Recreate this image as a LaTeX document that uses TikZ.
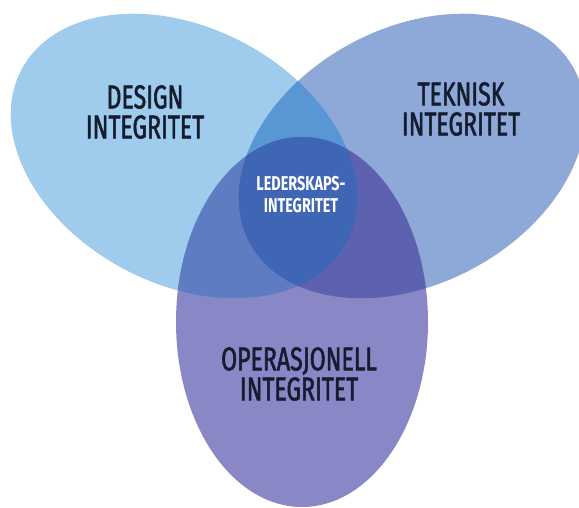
\documentclass[tikz,border=0pt]{standalone}
\usepackage{fontspec}
\setmainfont{Fira Sans}[FakeStretch=0.72]
\newfontfamily\labelfont{Fira Sans}[FakeStretch=0.70, FakeBold=1.6]
\definecolor{cL}{RGB}{159,203,236}
\definecolor{cR}{RGB}{142,169,216}
\definecolor{cB}{RGB}{137,135,198}
\definecolor{cLR}{RGB}{88,150,212}
\definecolor{cLB}{RGB}{93,124,194}
\definecolor{cRB}{RGB}{92,98,176}
\definecolor{cLRB}{RGB}{63,101,181}
\definecolor{txt}{RGB}{20,28,48}
\newcommand{\ellL}{[rotate around={-28:(184,352)}] (184,352) ellipse [x radius=184pt, y radius=128pt]}
\newcommand{\ellR}{[rotate around={28:(412,352)}] (412,352) ellipse [x radius=184pt, y radius=128pt]}
\newcommand{\ellB}{(302,186) ellipse [x radius=126pt, y radius=185pt]}
\tikzset{
  biglabel/.style={align=center, text=txt, font=\labelfont\fontsize{33}{30}\selectfont, inner sep=0pt},
  smalllabel/.style={align=center, text=white, font=\bfseries\fontsize{20}{22}\selectfont, inner sep=0pt}
}
\begin{document}
\begin{tikzpicture}[x=1pt,y=1pt]
\useasboundingbox (0,0) rectangle (579,508);
\fill[white] (0,0) rectangle (579,508);
\fill[cL] \ellL;
\fill[cR] \ellR;
\fill[cB] \ellB;
\begin{scope}\clip \ellL; \fill[cLR] \ellR; \end{scope}
\begin{scope}\clip \ellL; \fill[cLB] \ellB; \end{scope}
\begin{scope}\clip \ellR; \fill[cRB] \ellB; \end{scope}
\begin{scope}\clip \ellL; \clip \ellR; \fill[cLRB] \ellB; \end{scope}
\node[biglabel] (design) at (145,396) {DESIGN\\INTEGRITET};
\node[biglabel] (teknisk) at (461,399) {TEKNISK\\INTEGRITET};
\node[biglabel] (oper) at (299,134) {OPERASJONELL\\INTEGRITET};
\node[smalllabel] (leder) at (301,313) {LEDERSKAPS-\\INTEGRITET};
\end{tikzpicture}
\end{document}
